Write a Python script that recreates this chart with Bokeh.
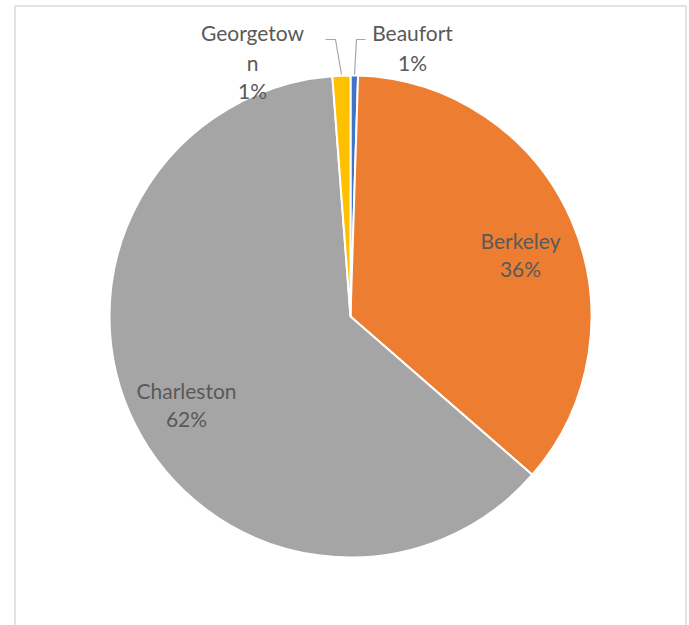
import math
from bokeh.plotting import figure
from bokeh.models import Range1d
from bokeh.core.properties import value
from bokeh.embed import file_html
from bokeh.resources import INLINE

# ---- data ----
names = ["Beaufort", "Berkeley", "Charleston", "Georgetown"]
shares = [0.5, 35.9, 62.4, 1.2]
colors = ["#4472C4", "#ED7D31", "#A5A5A5", "#FFC000"]

# ---- layout (pixel-like coordinates: x = px, y = 625 - py) ----
W, H = 689, 625
p = figure(width=W, height=H, x_range=Range1d(0, W), y_range=Range1d(625 - H, 625),
           output_backend="svg", toolbar_location=None, min_border=0)
p.axis.visible = False
p.grid.visible = False
p.outline_line_color = None
p.background_fill_color = "white"
p.border_fill_color = "white"

def Y(py):
    return 625 - py

# chart border
p.quad(left=14.5, right=685.5, top=Y(5.5), bottom=Y(700), fill_color=None,
       line_color="#d9d9d9", line_width=1.5)

cx, cy, r = 350, Y(316), 241
total = sum(shares)
cum = 0.0
starts, ends = [], []
for s in shares:
    starts.append(math.pi / 2 - cum / total * 2 * math.pi)
    cum += s
    ends.append(math.pi / 2 - cum / total * 2 * math.pi)

p.wedge(x=[cx] * len(names), y=[cy] * len(names), radius=r,
        start_angle=starts, end_angle=ends, direction="clock",
        fill_color=colors, line_color="white", line_width=2)

pct = [f"{int(s / total * 100 + 0.5)}%" for s in shares]

label_lines = {
    "Beaufort": (412, [32, 62], ["Beaufort", pct[0]]),
    "Berkeley": (520, [240, 268], ["Berkeley", pct[1]]),
    "Charleston": (186, [390, 418], ["Charleston", pct[2]]),
    "Georgetown": (252, [32, 62, 90], ["Georgetow", "n", pct[3]]),
}
xs, ys, ts = [], [], []
for nm in names:
    lx, lys, txts = label_lines[nm]
    for py, t in zip(lys, txts):
        xs.append(lx)
        ys.append(Y(py))
        ts.append(t)

p.text(x=xs, y=ys, text=ts, text_align="center", text_baseline="middle",
       text_font=value("Lato"), text_font_size="21px", text_color="#595959")

# leader lines
p.line(x=[325, 335, 341], y=[Y(39), Y(39), Y(74)], line_color="#a6a6a6", line_width=1.2)
p.line(x=[365, 356, 354], y=[Y(39), Y(39), Y(74)], line_color="#a6a6a6", line_width=1.2)

open("out.html", "w").write(file_html(p, INLINE))
